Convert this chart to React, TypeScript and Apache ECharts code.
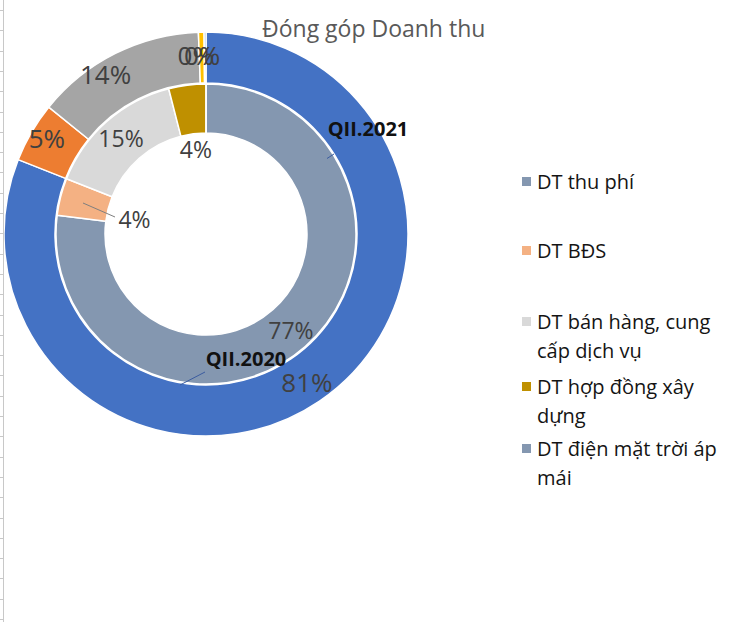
import React, { useEffect, useRef } from 'react';
import * as echarts from 'echarts';

const titleText = 'Đóng góp Doanh thu';
const categories = [
  'DT thu phí',
  'DT BĐS',
  'DT bán hàng, cung cấp dịch vụ',
  'DT hợp đồng xây dựng',
  'DT điện mặt trời áp mái',
];
const legendLines = [
  ['DT thu phí'],
  ['DT BĐS'],
  ['DT bán hàng, cung', 'cấp dịch vụ'],
  ['DT hợp đồng xây', 'dựng'],
  ['DT điện mặt trời áp', 'mái'],
];
const seriesNames = ['QII.2020', 'QII.2021'];
const values2020 = [77, 4, 15, 4, 0];
const values2021 = [81, 4.8, 13.6, 0.45, 0.15];
const colors2020 = ['#8497B0', '#F4B183', '#D9D9D9', '#BF9000', '#8497B0'];
const colors2021 = ['#4472C4', '#ED7D31', '#A5A5A5', '#FFC000', '#5B9BD5'];

// label nudges (layout only)
const innerLabelShift = [[0, 0], [53, 17], [0, 0], [6, 42], [0, 0]];
const outerLabelShift = [[0, 0], [-4, -6], [-20, 0], [-6, 0], [-3, 0]];
const legendTops = [167, 236, 278, 343, 405];

const FONT = "'Open Sans', 'Noto Sans', sans-serif";
const CX = 206;
const CY = 234;

export default function App() {
  const ref = useRef<HTMLDivElement>(null);
  useEffect(() => {
    if (!ref.current) return;
    const chart = echarts.init(ref.current, null, { renderer: 'svg' });
    const pct = (p: any) => Math.round(p.percent) + '%';

    const legends = categories.map((name, i) => ({
      data: [name],
      orient: 'vertical',
      left: 520,
      top: legendTops[i],
      padding: 0,
      icon: 'rect',
      itemWidth: 11,
      itemHeight: 11,
      formatter: () =>
        legendLines[i].length > 1 ? '\n' + legendLines[i].join('\n') : legendLines[i][0],
      textStyle: { fontFamily: FONT, fontSize: 20, color: '#141414', lineHeight: 29 },
    }));

    const ticks: any[] = [];
    for (let y = 10; y < 622; y += 20.3) {
      ticks.push({
        type: 'line',
        z: 100,
        shape: { x1: 0, y1: Math.round(y) + 0.5, x2: 3, y2: Math.round(y) + 0.5 },
        style: { stroke: '#c8c8c8', lineWidth: 1 },
      });
    }

    const option: any = {
      animation: false,
      title: {
        text: titleText,
        left: 262,
        top: 13,
        padding: 0,
        textStyle: { fontFamily: FONT, fontSize: 23, fontWeight: 'normal', color: '#595959', lineHeight: 30 },
      },
      legend: legends,
      series: [
        {
          name: seriesNames[0],
          type: 'pie',
          center: [CX, CY],
          radius: [101, 150],
          startAngle: 90,
          clockwise: true,
          avoidLabelOverlap: false,
          itemStyle: { borderColor: '#fff', borderWidth: 1.5 },
          label: {
            show: true,
            position: 'inside',
            formatter: pct,
            fontFamily: FONT,
            fontSize: 23,
            color: '#404040',
          },
          labelLine: { show: false },
          labelLayout: (p: any) => ({ dx: innerLabelShift[p.dataIndex][0], dy: innerLabelShift[p.dataIndex][1] }),
          data: categories.map((n, i) => ({
            name: n,
            value: values2020[i],
            itemStyle: { color: colors2020[i] },
            label: values2020[i] === 0 ? { show: false } : undefined,
          })),
        },
        {
          name: seriesNames[1],
          type: 'pie',
          center: [CX, CY],
          radius: [151, 202],
          startAngle: 90,
          clockwise: true,
          avoidLabelOverlap: false,
          itemStyle: { borderColor: '#fff', borderWidth: 1.5 },
          label: {
            show: true,
            position: 'inside',
            formatter: pct,
            fontFamily: FONT,
            fontSize: 26,
            color: '#404040',
          },
          labelLine: { show: false },
          labelLayout: (p: any) => ({ dx: outerLabelShift[p.dataIndex][0], dy: outerLabelShift[p.dataIndex][1] }),
          data: categories.map((n, i) => ({
            name: n,
            value: values2021[i],
            itemStyle: { color: colors2021[i] },
          })),
        },
      ],
      graphic: [
        {
          type: 'line',
          z: 100,
          shape: { x1: 3.5, y1: 0, x2: 3.5, y2: 622 },
          style: { stroke: '#c8c8c8', lineWidth: 1 },
        },
        ...ticks,
        {
          type: 'line',
          z: 100,
          shape: { x1: 83, y1: 203, x2: 115, y2: 217 },
          style: { stroke: '#7f7f7f', lineWidth: 1 },
        },
        {
          type: 'line',
          z: 100,
          shape: { x1: 327, y1: 158.5, x2: 334, y2: 154 },
          style: { stroke: '#3b5ca0', lineWidth: 1 },
        },
        {
          type: 'line',
          z: 100,
          shape: { x1: 180, y1: 385, x2: 205, y2: 372 },
          style: { stroke: '#3b5ca0', lineWidth: 1 },
        },
        {
          type: 'text',
          z: 100,
          x: 368,
          y: 128,
          style: {
            text: seriesNames[1],
            fontFamily: FONT,
            fontSize: 20,
            fontWeight: 'bold',
            fill: '#111',
            align: 'center',
            verticalAlign: 'middle',
            textAlign: 'center',
            textVerticalAlign: 'middle',
          },
        },
        {
          type: 'text',
          z: 100,
          x: 246,
          y: 358,
          style: {
            text: seriesNames[0],
            fontFamily: FONT,
            fontSize: 20,
            fontWeight: 'bold',
            fill: '#111',
            align: 'center',
            verticalAlign: 'middle',
            textAlign: 'center',
            textVerticalAlign: 'middle',
          },
        },
      ],
    };
    chart.setOption(option);
    return () => chart.dispose();
  }, []);
  return (
    <div
      ref={ref}
      style={{ position: 'fixed', left: 0, top: 0, width: 748, height: 622, background: '#fff' }}
    />
  );
}
